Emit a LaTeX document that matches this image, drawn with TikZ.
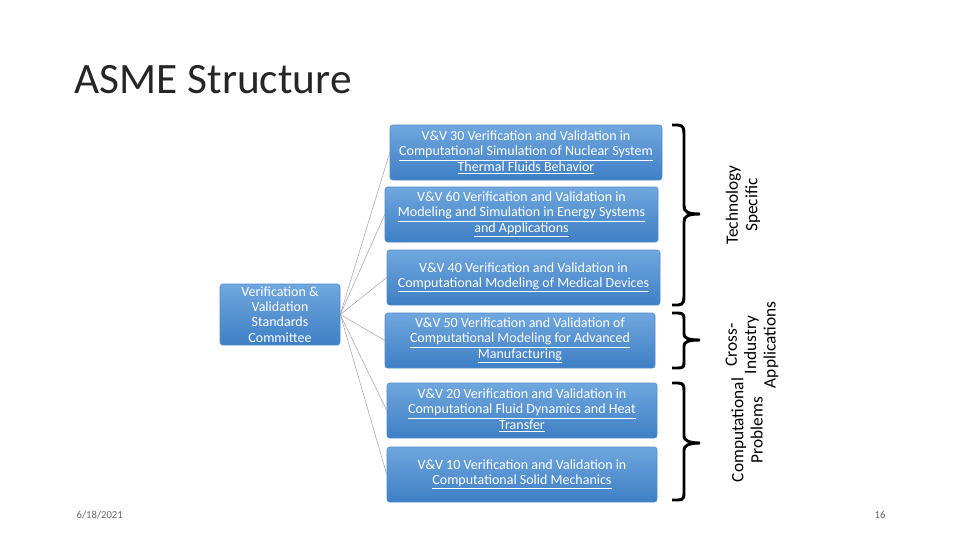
\documentclass[tikz,border=0pt]{standalone}
\usepackage{fontspec}
\setmainfont{Carlito}
\definecolor{btop}{RGB}{112,167,222}
\definecolor{bbot}{RGB}{62,127,197}
\definecolor{bdr}{RGB}{80,140,205}
\begin{document}
\begin{tikzpicture}[x=0.75pt,y=-0.75pt,
  bx/.style={rounded corners=2pt,top color=btop,bottom color=bbot,draw=bdr,text=white,align=center,font=\fontsize{10.5}{11.4}\selectfont,inner sep=0pt},
  cn/.style={draw=gray!70,line width=0.4pt},
  br/.style={line width=2.2pt,black},
  lab/.style={rotate=90,align=center,font=\fontsize{13}{14.5}\selectfont}]
\useasboundingbox (0,0) rectangle (960,540);
\node[anchor=west,font=\fontsize{32.5}{34}\selectfont,text=black!85] (title) at (70,80) {ASME Structure};
\node[bx,minimum width=90pt,minimum height=45.75pt,font=\fontsize{10.5}{11.4}\selectfont] (c) at (280,314.5) {Verification \&\\Validation\\Standards\\Committee};
\node[bx,minimum width=204pt,minimum height=41.25pt] (b1) at (526,152.5) {V\&V 30 Verification and Validation in\\\underline{Computational Simulation of Nuclear System}\\\underline{Thermal Fluids Behavior}};
\node[bx,minimum width=204.75pt,minimum height=41.25pt] (b2) at (521.5,214.5) {V\&V 60 Verification and Validation in\\\underline{Modeling and Simulation in Energy Systems}\\\underline{and Applications}};
\node[bx,minimum width=204.75pt,minimum height=41.25pt] (b3) at (523.5,277.5) {V\&V 40 Verification and Validation in\\\underline{Computational Modeling of Medical Devices}};
\node[bx,minimum width=202.5pt,minimum height=41.25pt] (b4) at (520,340.5) {V\&V 50 Verification and Validation of\\\underline{Computational Modeling for Advanced}\\\underline{Manufacturing}};
\node[bx,minimum width=202.5pt,minimum height=41.25pt] (b5) at (522,410.5) {V\&V 20 Verification and Validation in\\\underline{Computational Fluid Dynamics and Heat}\\\underline{Transfer}};
\node[bx,minimum width=202.5pt,minimum height=41.25pt] (b6) at (522,474.5) {V\&V 10 Verification and Validation in\\\underline{Computational Solid Mechanics}};
\foreach \b in {b1,b2,b3,b4,b5,b6} \draw[cn] (c.east) -- (\b.west);
\draw[br] (672,125) -- (678,125) .. controls (684,125) and (684,130) .. (684,135) -- (684,206) .. controls (684,212) and (688,214) .. (700,214) (700,214) .. controls (688,214) and (684,216) .. (684,222) -- (684,295) .. controls (684,300) and (684,305) .. (678,305) -- (672,305);
\draw[br] (672,313) -- (678,313) .. controls (684,313) and (684,316) .. (684,320) -- (684,334) .. controls (684,338) and (688,340) .. (700,340) (700,340) .. controls (688,340) and (684,342) .. (684,346) -- (684,361) .. controls (684,366) and (684,368) .. (678,368) -- (672,368);
\draw[br] (672,383) -- (678,383) .. controls (684,383) and (684,386) .. (684,391) -- (684,436) .. controls (684,440) and (688,443) .. (700,443) (700,443) .. controls (688,443) and (684,446) .. (684,450) -- (684,492) .. controls (684,497) and (684,500) .. (678,500) -- (672,500);
\node[lab] (l1) at (743,205) {Technology\\Specific};
\node[lab] (l2) at (752,345) {Cross-\\Industry\\Applications};
\node[lab] (l3) at (747,430) {Computational\\Problems};
\node[anchor=west,font=\fontsize{8}{9}\selectfont,text=gray!80!black] (d) at (72,515) {6/18/2021};
\node[font=\fontsize{8}{9}\selectfont,text=gray!80!black] (p) at (880,515) {16};
\end{tikzpicture}
\end{document}
